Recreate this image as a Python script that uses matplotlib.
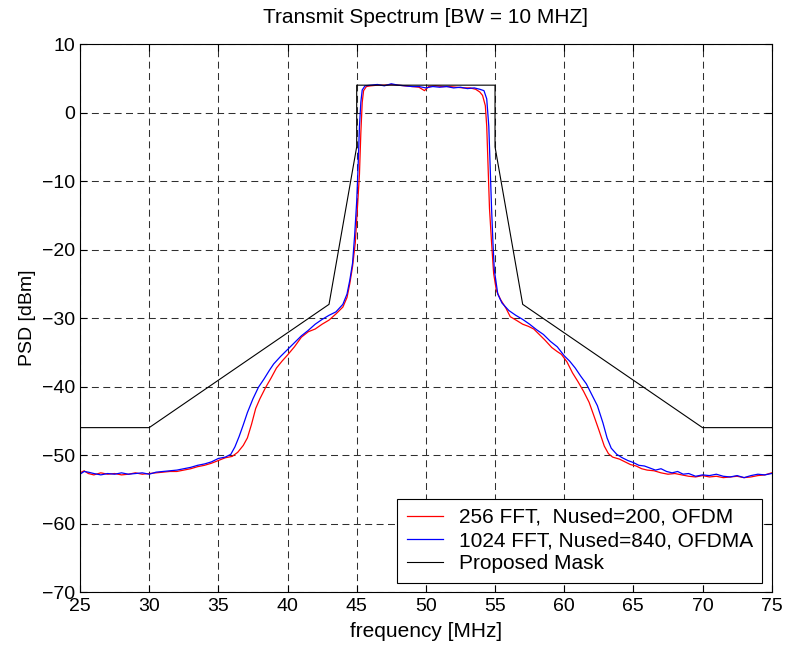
import numpy as np
import matplotlib
matplotlib.use('Agg')
import matplotlib.pyplot as plt

plt.rcParams['font.family'] = ['Liberation Sans', 'DejaVu Sans']
plt.rcParams['lines.scale_dashes'] = False

# 256 FFT, Nused=200, OFDM (red)
f_ofdm = [25.0, 25.3, 25.6, 26.0, 26.5, 27.0, 27.5, 28.0, 28.5, 29.0, 29.5, 30.0,
          30.5, 31.0, 31.5, 32.0, 32.5, 33.0, 33.5, 34.0, 34.5, 35.0, 35.5, 36.0,
          36.4, 36.8, 37.1, 37.4, 37.7, 38.0, 38.4, 38.8, 39.2, 39.6, 40.0, 40.5,
          41.0, 41.5, 42.0, 42.5, 43.0, 43.5, 44.0, 44.3, 44.5, 44.7, 44.9, 45.05,
          45.2, 45.3, 45.4, 45.5, 45.7, 46.0, 46.5, 47.0, 47.5, 48.0, 48.5, 49.0,
          49.5, 49.9, 50.2, 50.7, 51.2, 51.7, 52.2, 52.7, 53.2, 53.6, 53.9, 54.1,
          54.3, 54.4, 54.5, 54.6, 54.75, 54.9, 55.1, 55.4, 55.8, 56.1, 56.6, 57.0,
          57.4, 57.8, 58.2, 58.6, 59.1, 59.5, 59.8, 60.2, 60.6, 61.0, 61.4, 61.8,
          62.1, 62.5, 62.9, 63.2, 63.5, 64.0, 64.4, 64.8, 65.2, 65.6, 66.0, 66.5,
          67.0, 67.5, 68.0, 68.5, 69.0, 69.5, 70.0, 70.5, 71.0, 71.5, 72.0, 72.5,
          73.0, 73.5, 74.0, 74.5, 75.0]
p_ofdm = [-52.6, -52.3, -52.7, -52.9, -52.6, -52.8, -52.7, -52.9, -52.8, -52.6, -52.8, -52.7,
          -52.6, -52.5, -52.4, -52.4, -52.2, -52.0, -51.7, -51.5, -51.2, -50.8, -50.4, -50.2,
          -49.6, -48.6, -47.5, -45.5, -43.2, -41.8, -40.2, -38.8, -37.3, -36.3, -35.4, -34.2,
          -32.8, -32.0, -31.6, -30.9, -30.3, -29.4, -28.4, -27.0, -25.0, -22.5, -19.0, -14.0,
          -9.0, -3.0, 1.5, 3.2, 3.8, 3.9, 4.0, 4.0, 4.1, 4.0, 3.9, 3.8,
          3.7, 3.2, 3.8, 3.9, 3.8, 3.8, 3.7, 3.6, 3.6, 3.4, 3.0, 2.5,
          1.0, -2.0, -8.0, -14.0, -19.0, -23.5, -26.0, -27.3, -28.6, -29.8, -30.4, -30.9,
          -31.2, -31.6, -32.4, -33.2, -34.3, -34.9, -35.3, -36.4, -38.0, -39.3, -40.7, -42.3,
          -44.0, -46.3, -48.7, -49.8, -50.3, -50.6, -51.0, -51.4, -51.6, -52.0, -52.2, -52.3,
          -52.6, -52.8, -52.7, -52.9, -53.1, -53.2, -53.0, -53.2, -53.1, -53.3, -53.2, -53.1,
          -53.3, -53.2, -53.0, -52.9, -52.6]

# 1024 FFT, Nused=840, OFDMA (blue)
f_ofdma = [25.0, 25.3, 25.6, 26.0, 26.5, 27.0, 27.5, 28.0, 28.5, 29.0, 29.5, 30.0,
           30.5, 31.0, 31.5, 32.0, 32.5, 33.0, 33.5, 34.0, 34.5, 35.0, 35.5, 35.9,
           36.2, 36.5, 36.8, 37.1, 37.5, 37.9, 38.3, 38.7, 39.0, 39.5, 40.0, 40.5,
           41.0, 41.5, 42.0, 42.5, 43.0, 43.5, 44.0, 44.3, 44.5, 44.7, 44.85, 45.0,
           45.1, 45.2, 45.3, 45.4, 45.6, 46.0, 46.5, 47.0, 47.5, 48.0, 48.5, 49.0,
           49.5, 50.0, 50.5, 51.0, 51.5, 52.0, 52.5, 53.0, 53.5, 53.9, 54.2, 54.4,
           54.55, 54.65, 54.75, 54.85, 54.95, 55.2, 55.5, 56.0, 56.5, 57.0, 57.5, 58.0,
           58.5, 59.0, 59.5, 60.0, 60.4, 60.8, 61.2, 61.6, 62.0, 62.4, 62.8, 63.1,
           63.4, 63.8, 64.2, 64.6, 65.0, 65.4, 65.8, 66.2, 66.6, 67.0, 67.4, 67.8,
           68.2, 68.6, 69.0, 69.5, 70.0, 70.5, 71.0, 71.5, 72.0, 72.5, 73.0, 73.5,
           74.0, 74.5, 75.0]
p_ofdma = [-52.8, -52.4, -52.5, -52.7, -52.9, -52.7, -52.8, -52.6, -52.8, -52.7, -52.6, -52.8,
           -52.5, -52.4, -52.3, -52.2, -52.0, -51.8, -51.5, -51.3, -51.0, -50.5, -50.3, -49.9,
           -48.8, -47.3, -45.6, -43.8, -41.8, -40.1, -38.9, -37.6, -36.7, -35.6, -34.6, -33.6,
           -32.6, -31.8, -30.9, -30.2, -29.6, -29.1, -28.0, -26.5, -24.5, -22.0, -18.0, -13.0,
           -8.0, -2.0, 1.5, 3.3, 3.9, 4.0, 4.1, 3.9, 4.2, 4.0, 3.9, 3.8,
           3.8, 3.6, 3.8, 3.7, 3.8, 3.6, 3.7, 3.5, 3.6, 3.4, 3.2, 2.0,
           -2.0, -8.0, -14.0, -19.0, -23.0, -26.5, -27.8, -28.9, -29.6, -30.2, -30.9, -31.7,
           -32.4, -33.4, -34.2, -35.5, -36.3, -37.3, -38.5, -39.6, -41.2, -42.8, -45.3, -47.5,
           -49.0, -49.9, -50.4, -50.8, -51.1, -51.5, -51.6, -51.9, -52.2, -52.0, -52.4, -52.6,
           -52.4, -52.8, -52.7, -53.1, -52.9, -53.0, -52.8, -53.1, -53.2, -53.0, -53.3, -53.0,
           -52.8, -52.9, -52.7]

# proposed mask
f_mask = [25, 30, 43, 45, 45, 55, 55, 57, 70, 75]
p_mask = [-46, -46, -28, -5, 4, 4, -5, -28, -46, -46]

fig = plt.figure(figsize=(7.86, 6.5), dpi=100)
ax = fig.add_axes([0.1018, 0.0892, 0.880, 0.843])

ax.plot(f_ofdm, p_ofdm, color='#ff0000', lw=0.9, label='256 FFT,  Nused=200, OFDM')
ax.plot(f_ofdma, p_ofdma, color='#0000ff', lw=0.9, label='1024 FFT, Nused=840, OFDMA')
ax.plot(f_mask, p_mask, color='k', lw=0.8, label='Proposed Mask')

ax.set_xlim(25, 75)
ax.set_ylim(-70, 10)
ax.set_xticks(np.arange(25, 76, 5))
ax.set_yticks(np.arange(-70, 11, 10))
ax.grid(True, color='#303030', linestyle=(0, (5, 3.2)), linewidth=0.75)
ax.tick_params(direction='in', top=True, right=True, length=5, labelsize=14)
ax.tick_params(axis='x', pad=4)
for s in ax.spines.values():
    s.set_linewidth(0.8)

ax.set_title('Transmit Spectrum [BW = 10 MHZ]', fontsize=15, pad=15)
ax.set_xlabel('frequency [MHz]', fontsize=15, labelpad=5)
ax.set_ylabel('PSD [dBm]', fontsize=14)

leg = ax.legend(loc='lower right', fontsize=15, fancybox=False, framealpha=1,
                edgecolor='k', handlelength=1.75, handletextpad=0.75,
                borderaxespad=0.45, labelspacing=0.2, borderpad=0.45)
leg.get_frame().set_linewidth(0.8)

plt.savefig('out.png', dpi=100)
